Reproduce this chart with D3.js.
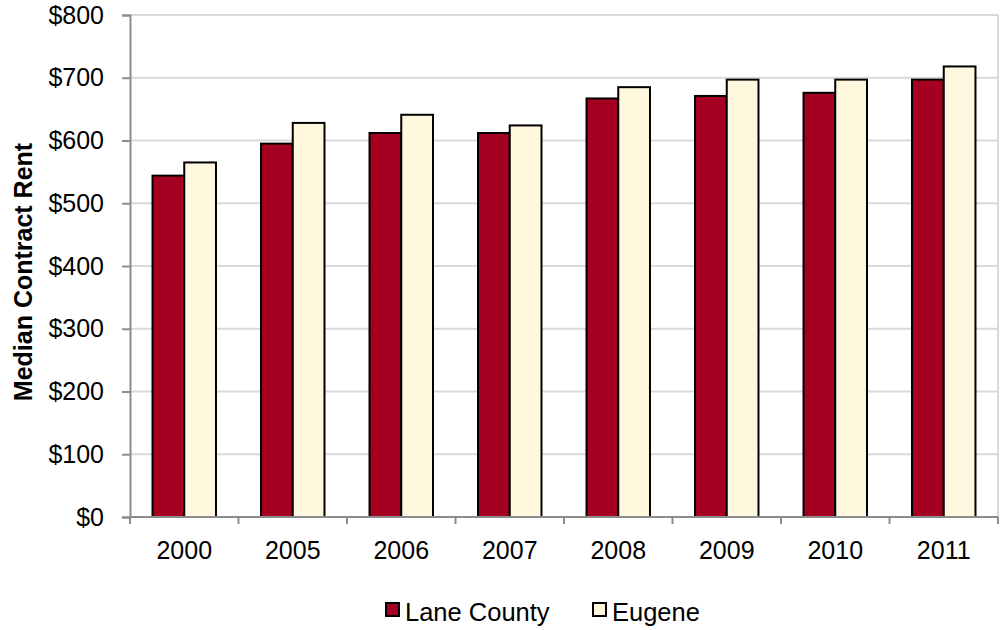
<!DOCTYPE html>
<html>
<head>
<meta charset="utf-8">
<script src="https://cdn.jsdelivr.net/npm/d3@7"></script>
<style>
  html, body { margin: 0; padding: 0; background: #ffffff; }
  svg { display: block; font-family: Arial, "Liberation Sans", sans-serif; }
</style>
</head>
<body>
<svg id="chart" width="1002" height="630"></svg>
<script>
// Median contract rent by year, Lane County vs. Eugene
const years = ["2000", "2005", "2006", "2007", "2008", "2009", "2010", "2011"];
const laneCounty = [544, 595, 612, 612, 667, 671, 676, 697];
const eugene = [565, 628, 641, 624, 685, 697, 697, 718];
const seriesNames = ["Lane County", "Eugene"];
const seriesColors = ["#a50021", "#fff7de"];
const yTicks = [0, 100, 200, 300, 400, 500, 600, 700, 800];

const svg = d3.select("#chart");
const plot = { left: 130, right: 998, top: 15, bottom: 517 };

const x = d3.scaleBand()
  .domain(years)
  .range([plot.left, plot.right])
  .paddingInner(0.415)
  .paddingOuter(0.2075);

const xInner = d3.scaleBand()
  .domain(seriesNames)
  .range([0, x.bandwidth()]);

const y = d3.scaleLinear()
  .domain([0, 800])
  .range([plot.bottom, plot.top]);

// horizontal gridlines
svg.append("g")
  .selectAll("line")
  .data(yTicks.filter(d => d > 0))
  .join("line")
  .attr("x1", plot.left)
  .attr("x2", plot.right)
  .attr("y1", d => y(d))
  .attr("y2", d => y(d))
  .attr("stroke", "#d9d9d9")
  .attr("stroke-width", 2);

// right border of the plot area
svg.append("line")
  .attr("x1", plot.right).attr("x2", plot.right)
  .attr("y1", plot.top).attr("y2", plot.bottom)
  .attr("stroke", "#d9d9d9")
  .attr("stroke-width", 2);

// bars
const rows = years.map((yr, i) => ({ year: yr, values: [laneCounty[i], eugene[i]] }));
svg.append("g")
  .selectAll("g")
  .data(rows)
  .join("g")
  .attr("transform", d => `translate(${x(d.year)},0)`)
  .selectAll("rect")
  .data(d => d.values.map((v, j) => ({ name: seriesNames[j], value: v, color: seriesColors[j] })))
  .join("rect")
  .attr("x", d => xInner(d.name))
  .attr("width", xInner.bandwidth())
  .attr("y", d => y(d.value))
  .attr("height", d => y(0) - y(d.value))
  .attr("fill", d => d.color)
  .attr("stroke", "#000")
  .attr("stroke-width", 2);

// y axis
const yAxis = svg.append("g")
  .attr("transform", `translate(${plot.left},0)`)
  .call(d3.axisLeft(y).tickValues(yTicks).tickFormat(d => "$" + d).tickSize(8).tickPadding(18));
yAxis.select(".domain").attr("stroke", "#8c8c8c").attr("stroke-width", 2);
yAxis.selectAll(".tick line").attr("stroke", "#8c8c8c").attr("stroke-width", 2);
yAxis.selectAll(".tick text")
  .attr("font-size", 25)
  .attr("fill", "#000")
  .attr("font-family", "Arial, 'Liberation Sans', sans-serif");

// x axis with ticks on band boundaries
const xAxis = svg.append("g")
  .attr("transform", `translate(0,${plot.bottom})`);
xAxis.append("line")
  .attr("x1", plot.left).attr("x2", plot.right)
  .attr("stroke", "#8c8c8c").attr("stroke-width", 2);
const boundaries = years.map(d => x(d) - x.step() * x.paddingOuter()).concat([plot.right]);
xAxis.selectAll("line.tick")
  .data(boundaries)
  .join("line")
  .attr("class", "tick")
  .attr("x1", d => d).attr("x2", d => d)
  .attr("y1", 0).attr("y2", 7)
  .attr("stroke", "#8c8c8c").attr("stroke-width", 2);
xAxis.selectAll("text")
  .data(years)
  .join("text")
  .attr("x", d => x(d) + x.bandwidth() / 2)
  .attr("y", 42)
  .attr("text-anchor", "middle")
  .attr("font-size", 25)
  .attr("fill", "#000")
  .text(d => d);

// y axis title
svg.append("text")
  .attr("transform", `translate(32,${(plot.top + plot.bottom) / 2 + 6}) rotate(-90)`)
  .attr("text-anchor", "middle")
  .attr("font-size", 25)
  .attr("font-weight", "bold")
  .attr("fill", "#000")
  .text("Median Contract Rent");

// legend
const legendItems = [
  { name: seriesNames[0], color: seriesColors[0], x: 386 },
  { name: seriesNames[1], color: seriesColors[1], x: 593 }
];
const legend = svg.append("g");
legend.selectAll("rect")
  .data(legendItems)
  .join("rect")
  .attr("x", d => d.x)
  .attr("y", 603)
  .attr("width", 13)
  .attr("height", 13)
  .attr("fill", d => d.color)
  .attr("stroke", "#000")
  .attr("stroke-width", 2);
legend.selectAll("text")
  .data(legendItems)
  .join("text")
  .attr("x", d => d.x + 19)
  .attr("y", 621)
  .attr("font-size", 25.5)
  .attr("fill", "#000")
  .text(d => d.name);
</script>
</body>
</html>
